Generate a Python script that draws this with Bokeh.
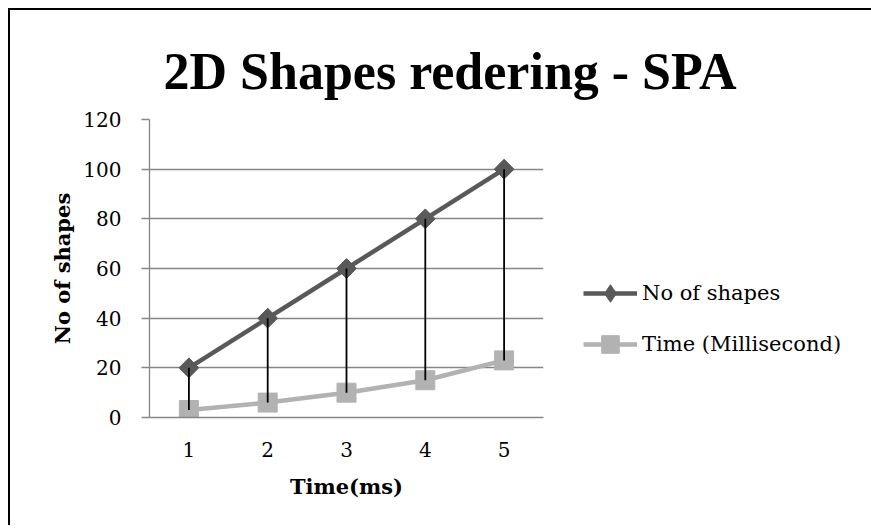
import numpy as np
from bokeh.plotting import figure
from bokeh.models import FactorRange, Range1d, Legend, LegendItem, FixedTicker
from bokeh.embed import file_html
from bokeh.resources import INLINE

categories = ["1", "2", "3", "4", "5"]
no_of_shapes = [20, 40, 60, 80, 100]
time_ms = [3, 6, 10, 15, 23]
y_ticks = [0, 20, 40, 60, 80, 100, 120]

SERIF = "DejaVu Serif"
GRID = "#868686"
DARK = "#595959"
LIGHT = "#b2b2b2"

p = figure(
    x_range=FactorRange(*categories),
    y_range=Range1d(0, 120),
    frame_width=394, frame_height=298,
    min_border_left=139, min_border_right=327,
    min_border_top=109, min_border_bottom=108,
    output_backend="svg", toolbar_location=None,
    title="2D Shapes redering - SPA",
    background_fill_color="white", border_fill_color="white",
)
p.styles = {"border-top": "2px solid black", "border-left": "2px solid black",
            "margin-left": "8px", "margin-top": "8px"}
p.outline_line_color = None

p.title.text_font = "Liberation Serif"
p.title.text_font_style = "bold"
p.title.text_font_size = "52px"
p.title.text_color = "black"
p.title.align = "left"
p.title.offset = 14
p.title.standoff = 40

# axes
p.xaxis.axis_label = "Time(ms)"
p.yaxis.axis_label = "No of shapes"
for ax in (p.xaxis, p.yaxis):
    ax.axis_label_text_font = SERIF
    ax.axis_label_text_font_style = "bold"
    ax.axis_label_text_font_size = "21px"
    ax.axis_label_text_color = "black"
    ax.major_label_text_font = SERIF
    ax.major_label_text_font_size = "20px"
    ax.major_label_text_color = "black"
    ax.axis_line_color = GRID
    ax.axis_line_width = 1.3
    ax.minor_tick_line_color = None
    ax.major_tick_line_color = GRID
    ax.major_tick_line_width = 1.3
    ax.major_tick_in = 0

p.xaxis.major_tick_out = 0
p.xaxis.major_label_standoff = 24
p.xaxis.axis_label_standoff = 14
p.yaxis.ticker = FixedTicker(ticks=y_ticks)
p.yaxis.major_tick_out = 8
p.yaxis.major_label_standoff = 20
p.yaxis.axis_label_standoff = 5

p.xgrid.grid_line_color = None
p.ygrid.grid_line_color = GRID
p.ygrid.grid_line_width = 1.3
p.ygrid.ticker = FixedTicker(ticks=y_ticks)

# series
l1 = p.line(categories, no_of_shapes, line_color=DARK, line_width=4.5)
p.scatter(categories, no_of_shapes, marker="square", angle=np.pi / 4,
          size=14, fill_color=DARK, line_color=DARK)
l2 = p.line(categories, time_ms, line_color=LIGHT, line_width=4.5)
s2 = p.scatter(categories, time_ms, marker="square", size=19,
               fill_color=LIGHT, line_color=LIGHT)

# diamond used for the legend swatch (legend glyphs ignore marker angle;
# the legend computes its own marker size, so size=0 keeps it off the plot)
d1 = p.scatter(categories, no_of_shapes, marker="diamond", size=0,
               fill_color=DARK, line_color=DARK)

# high-low lines
p.segment(x0=categories, y0=time_ms, x1=categories, y1=no_of_shapes,
          line_color="black", line_width=1.8)

legend = Legend(
    items=[LegendItem(label="No of shapes", renderers=[l1, d1]),
           LegendItem(label="Time (Millisecond)", renderers=[l2, s2])],
    location=(40, 51),
    glyph_width=54, glyph_height=44, label_height=44, spacing=7,
    padding=0, margin=0, label_standoff=5,
    border_line_color=None, background_fill_alpha=0,
    label_text_font=SERIF, label_text_font_size="21px",
    label_text_color="black",
)
p.add_layout(legend, "right")

open("out.html", "w").write(file_html(p, INLINE))
